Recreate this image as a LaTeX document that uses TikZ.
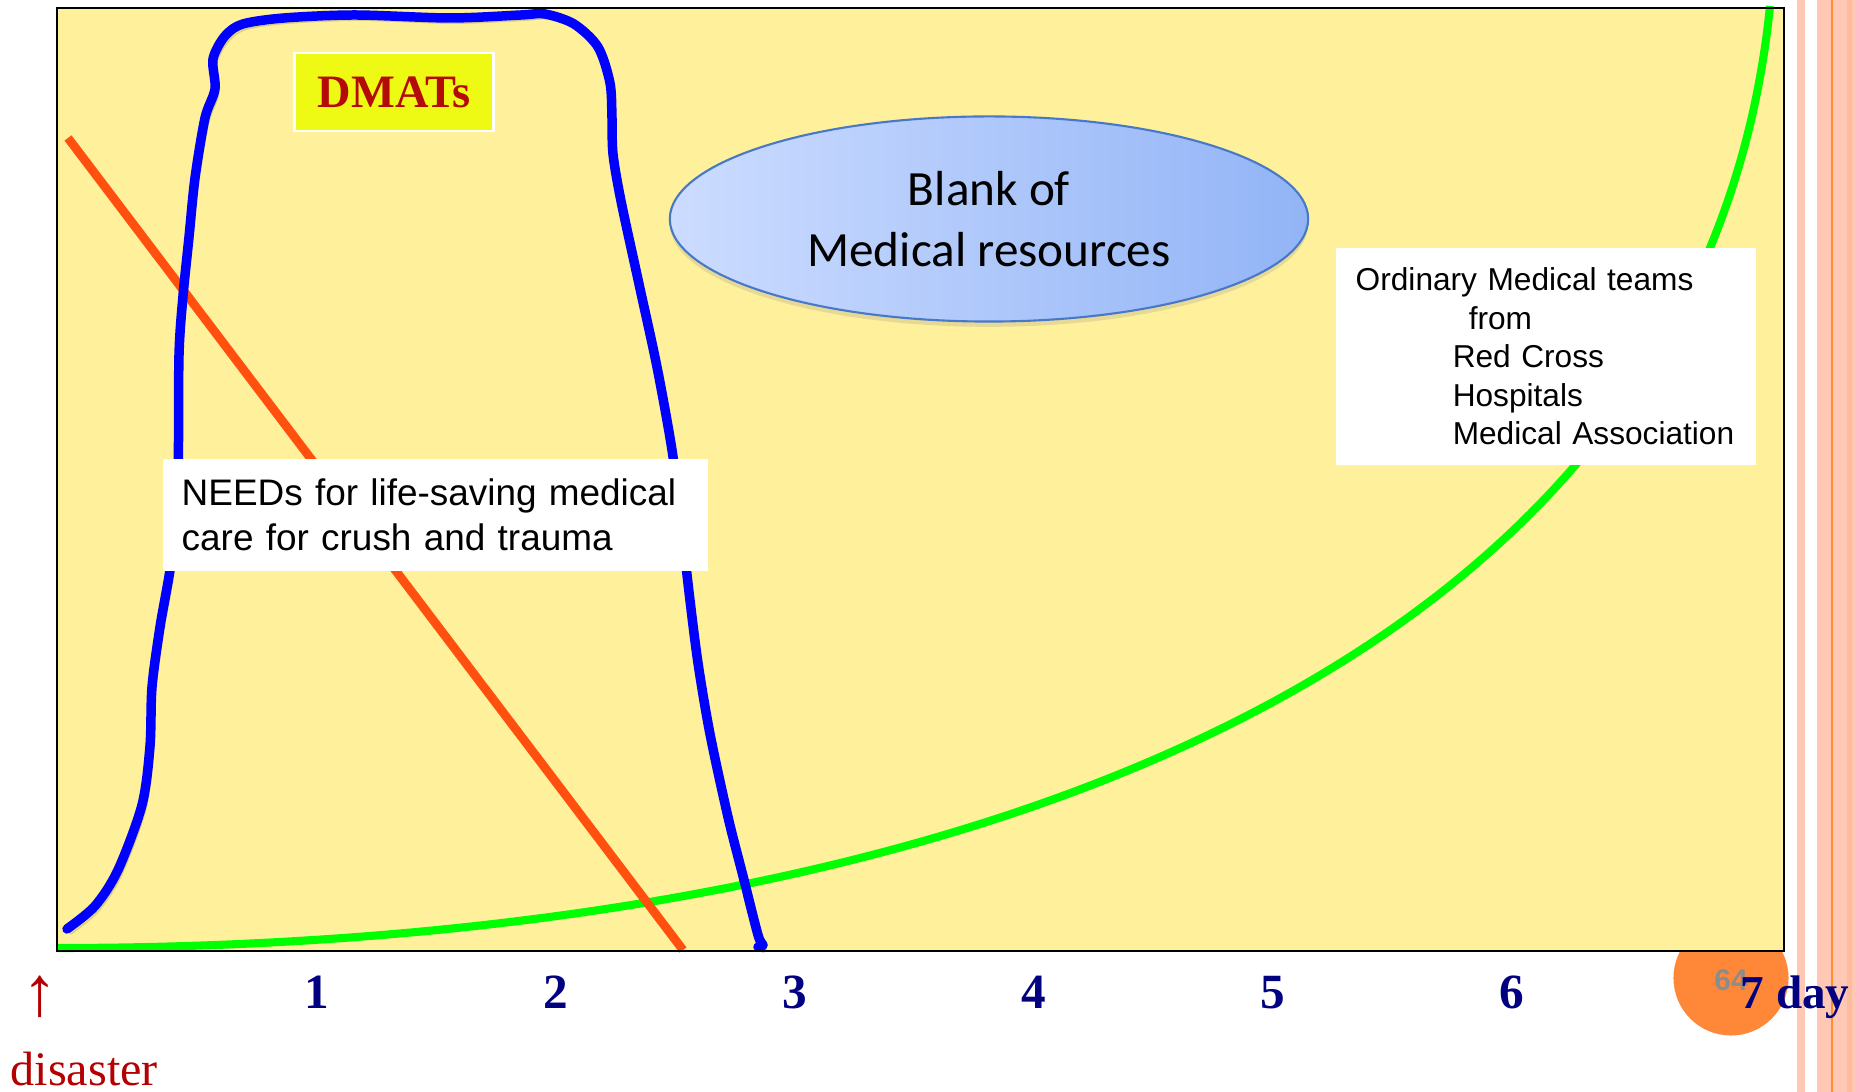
\documentclass[tikz,border=0pt]{standalone}
\usepackage{fontspec}
\setmainfont{Liberation Serif}
\newfontfamily\arialfont{Liberation Sans}
\newfontfamily\calibrifont{Carlito}
\usepackage{tikz}
\usetikzlibrary{positioning,shapes.geometric,shadows}

\definecolor{chartbg}{RGB}{255,240,155}
\definecolor{dmatfill}{RGB}{238,250,20}
\definecolor{dmatred}{RGB}{180,10,10}
\definecolor{needorange}{RGB}{255,80,16}
\definecolor{dayblue}{RGB}{0,0,128}
\definecolor{stripe}{RGB}{255,200,180}
\definecolor{stripeline}{RGB}{255,140,50}
\definecolor{pageorange}{RGB}{255,136,56}
\definecolor{pagegray}{RGB}{140,140,140}
\definecolor{ellleft}{RGB}{204,220,255}
\definecolor{ellright}{RGB}{146,180,246}
\definecolor{elldraw}{RGB}{72,120,200}
\definecolor{disasterred}{RGB}{180,0,0}

\begin{document}
\begin{tikzpicture}[
    x=0.01cm, y=-0.01cm,
    textbox/.style={fill=white, anchor=north west, align=left, inner xsep=0.19cm, inner ysep=0.2cm},
    daynum/.style={anchor=base, inner sep=0, text=dayblue, font=\bfseries\fontsize{14pt}{16pt}\selectfont},
    curve/.style={line width=2.7pt, line cap=round, line join=round}
]
\useasboundingbox (0,0) rectangle (1856,1092);

% Side stripes
\fill[stripe] (1797,0) rectangle (1805,1092);
\fill[stripe] (1817,0) rectangle (1856,1092);
\fill[stripeline] (1831,0) rectangle (1833,1092);
\fill[stripe!80!stripeline] (1847,0) rectangle (1852,1092);

% Page number
\node[circle, fill=pageorange, minimum size=1.15cm, inner sep=0] (pagecircle) at (1731,978) {};
\node[text=pagegray, inner sep=0, font=\arialfont\bfseries\fontsize{8.5pt}{10pt}\selectfont] (pagenum) at (1731,980) {64};

% Chart area
\fill[chartbg] (57,8) rectangle (1784,951);

% Ordinary teams (green)
\draw[curve, green, line width=2.3pt, line cap=butt]
    (57,948) .. controls (900,948) and (1700,700) .. (1770,6);

% Needs (orange)
\draw[needorange, line width=2.5pt] (68,138) -- (683,950);

% DMATs (blue)
\draw[curve, blue, preaction={draw=black, opacity=0.15, transform canvas={xshift=1pt, yshift=-1.5pt}}]
  plot[smooth] coordinates {
    (67,929) (95,906) (118,870) (142,805) (150,746) (152,687) (160,627)
    (172,556) (178,473) (179,355) (183,296) (189,237) (195,178) (205,118)
    (215,89) (213,59) (225,36) (243,24) (284,18) (355,15) (450,18) (521,15)
    (545,14) (574,24) (598,47) (610,83) (612,118) (613,154) (621,201)
    (639,284) (657,367) (672,450) (681,521) (689,592) (698,663) (710,734)
    (728,817) (743,876) (758,935) (763,945) (758,947)};

% DMATs label
\node[fill=dmatfill, draw=white, line width=0.8pt, minimum width=1.99cm, minimum height=0.78cm,
      text=dmatred, font=\bfseries\fontsize{13.2pt}{15pt}\selectfont] (dmats) at (394,92) {DMATs};

% Blank of medical resources
\node[ellipse, draw=elldraw, line width=0.6pt, left color=ellleft, right color=ellright,
      minimum width=6.38cm, minimum height=2.05cm, inner sep=0, align=center,
      drop shadow={shadow xshift=0pt, shadow yshift=-1.5pt, opacity=0.2},
      font=\calibrifont\fontsize{14pt}{17.4pt}\selectfont] (blank) at (989,219)
{Blank of\\Medical resources};

% Needs label
\node[textbox, text width=5.07cm, font=\arialfont\fontsize{10.5pt}{12.8pt}\selectfont] (needs) at (162,458)
{NEEDs for life-saving medical\\care for crush and trauma};

% Ordinary teams label
\node[textbox, inner xsep=0.2cm, text width=3.8cm, font=\arialfont\fontsize{9pt}{10.95pt}\selectfont] (ordinary) at (1335,247)
{Ordinary Medical teams\\\hspace*{1.13cm}from\\\hspace*{0.97cm}Red Cross\\\hspace*{0.97cm}Hospitals\\\hspace*{0.97cm}Medical Association};

% Frame
\draw[line width=0.7pt] (57,8) rectangle (1784,951);

% Day axis
\foreach \d in {1,...,6}
    \node[daynum] (day\d) at ({317+239*(\d-1)},1009) {\d};
\node[daynum, anchor=base west, font=\bfseries\fontsize{13.4pt}{16pt}\selectfont] (day7) at (1740,1009) {7 day};

% Disaster
\node[text=disasterred, inner sep=0, font=\fontsize{20pt}{22pt}\selectfont] (arrowup) at (40,997) {↑};
\node[text=disasterred, anchor=base west, inner sep=0, font=\fontsize{13.7pt}{16pt}\selectfont] (disaster) at (10,1086) {disaster};

\end{tikzpicture}
\end{document}
